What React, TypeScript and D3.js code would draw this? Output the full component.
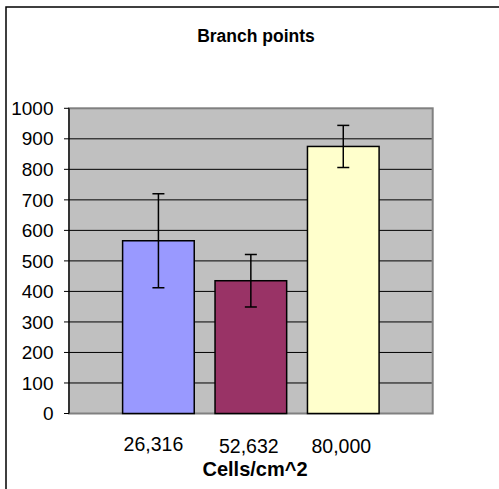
import React from "react";
import * as d3 from "d3";

const categories = ["26,316", "52,632", "80,000"];
const values = [566, 435, 875];
const errors = [154, 86, 69];
const barColors = ["#9999FF", "#993366", "#FFFFCC"];
const yTicks = [0, 100, 200, 300, 400, 500, 600, 700, 800, 900, 1000];
const title = "Branch points";
const xTitle = "Cells/cm^2";

const W = 499;
const H = 489;
const plot = { left: 69, right: 432.7, top: 108.3, bottom: 413.5 };

export default function App() {
  const x = d3
    .scaleBand<string>()
    .domain(categories)
    .range([plot.left, plot.right])
    .paddingInner(0.225)
    .paddingOuter(0.58);
  const y = d3.scaleLinear().domain([0, 1000]).range([plot.bottom, plot.top]);
  const font = "Arial, 'Liberation Sans', sans-serif";
  const bw = x.bandwidth();

  return (
    <svg
      width={W}
      height={H}
      style={{ position: "absolute", left: 0, top: 0, background: "#fff" }}
    >
      <rect x={6} y={7} width={700} height={700} fill="#fff" stroke="#000" strokeWidth={1.5} />
      <text x={256} y={41.5} textAnchor="middle" fontFamily={font} fontWeight="bold" fontSize={17.5} fill="#000">
        {title}
      </text>
      {/* plot area */}
      <rect
        x={plot.left}
        y={plot.top}
        width={plot.right - plot.left}
        height={plot.bottom - plot.top}
        fill="#C0C0C0"
        stroke="#808080"
        strokeWidth={2}
      />
      {yTicks
        .filter((t) => t > 0 && t < 1000)
        .map((t) => (
          <line key={"g" + t} x1={plot.left} x2={plot.right - 1} y1={y(t)} y2={y(t)} stroke="#000" strokeWidth={1} />
        ))}
      {/* y axis */}
      <line x1={plot.left} x2={plot.left} y1={plot.top} y2={plot.bottom} stroke="#000" strokeWidth={1.2} />
      {yTicks.map((t) => (
        <g key={"t" + t}>
          <line x1={plot.left - 5} x2={plot.left} y1={y(t)} y2={y(t)} stroke="#000" strokeWidth={1} />
          <text
            x={53.5}
            y={y(t)}
            dy="0.35em"
            textAnchor="end"
            fontFamily={font}
            fontSize={19}
            fill="#000"
          >
            {t}
          </text>
        </g>
      ))}
      {/* bars */}
      {categories.map((c, i) => (
        <rect
          key={"b" + c}
          x={x(c)}
          y={y(values[i])}
          width={bw}
          height={y(0) - y(values[i])}
          fill={barColors[i]}
          stroke="#000"
          strokeWidth={1.5}
        />
      ))}
      {/* error bars */}
      {categories.map((c, i) => {
        const cx = (x(c) as number) + bw / 2;
        const hi = y(values[i] + errors[i]);
        const lo = y(values[i] - errors[i]);
        return (
          <g key={"e" + c} stroke="#000" strokeWidth={1.5}>
            <line x1={cx} x2={cx} y1={hi} y2={lo} />
            <line x1={cx - 6} x2={cx + 6} y1={hi} y2={hi} />
            <line x1={cx - 6} x2={cx + 6} y1={lo} y2={lo} />
          </g>
        );
      })}
      {/* x labels */}
      {categories.map((c, i) => (
        <text
          key={"x" + c}
          x={(x(c) as number) + bw / 2 - (i === 0 ? 5 : 2)}
          y={i === 0 ? 451 : 453}
          textAnchor="middle"
          fontFamily={font}
          fontSize={19.5}
          fill="#000"
        >
          {c}
        </text>
      ))}
      <text x={255} y={475.5} textAnchor="middle" fontFamily={font} fontWeight="bold" fontSize={20} fill="#000">
        {xTitle}
      </text>
    </svg>
  );
}
